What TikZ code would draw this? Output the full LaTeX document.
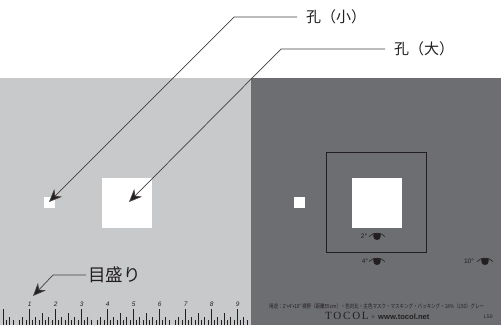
\documentclass[tikz,border=0pt]{standalone}
\usepackage{fontspec}
\usepackage{graphicx}
\usepackage{tikz}
\usetikzlibrary{arrows.meta}
\setmainfont{Liberation Sans}
\newfontfamily\cjk{Noto Sans CJK JP}
\newfontfamily\serifed[LetterSpace=16]{Liberation Serif}
\definecolor{panelL}{HTML}{C8C9CB}
\definecolor{panelD}{HTML}{6D6E71}
\definecolor{inkD}{HTML}{231F20}
\def \fs #1{\fontsize{#1}{#1}\selectfont}
\tikzset{eyemark/.pic={
  \fill [inkD] (-3.7,-2.6) -- (3.7,-2.6) -- (3.7,0.3) .. controls (3.7,2.8) and (1.8,4) .. (0,4) .. controls (-1.8,4) and (-3.7,2.8) .. (-3.7,0.3) -- cycle;
  \draw [inkD,line width=0.6pt] (-8,0.6) .. controls (-4,-4) and (4,-4) .. (8,0.6);
}}
\begin{document}
\begin{tikzpicture}[x=1pt,y=-1pt]
\tikzstyle{arrow}=[-{Stealth[length=13pt,width=11pt,fill=inkD]},line width=0.7pt,draw=inkD!85];
\tikzstyle{callout}=[anchor=west,inner ysep=0pt,text=inkD,font=\cjk];
\tikzstyle{hole}=[fill=white,inner sep=0pt];
\tikzstyle{small}=[inner sep=0pt,text=inkD];
\useasboundingbox (0,0) rectangle (501,325);
\fill [white] (0,0) rectangle (501,325);
\fill [panelL] (0,78) rectangle (251,325);
\fill [panelD] (251,78) rectangle (501,325);
% holes
\node (holeS) [hole,minimum size=11pt] at (49.5,202.5) {};
\node (holeL) [hole,minimum size=50pt] at (127,203) {};
\node (holeSd) [hole,minimum size=11pt] at (299.5,202.5) {};
\node (holeLd) [hole,minimum size=50pt] at (377,203) {};
\node (frame) [draw=inkD,line width=1pt,inner sep=0pt,minimum size=100pt] at (376.5,202.5) {};
% callouts
\node (labelS) [callout,inner xsep=9pt,font=\cjk\fs{15}] at (297,17) {孔（小）};
\node (labelL) [callout,inner xsep=9pt,font=\cjk\fs{15}] at (385,49) {孔（大）};
\node (labelR) [callout,inner xsep=2pt,font=\cjk\fs{17.5}] at (86,275) {目盛り};
\coordinate (bendS) at (234,17);
\coordinate (bendL) at (281,49);
\coordinate (bendR) at (53,275);
\coordinate (tipS) at (49,202);
\coordinate (tipL) at (129,202);
\coordinate (tipR) at (33,296);
\draw [arrow] (labelS.west) -- (bendS) -- (tipS);
\draw [arrow] (labelL.west) -- (bendL) -- (tipL);
\draw [arrow] (labelR.west) -- (bendR) -- (tipR);
% ruler
\foreach \i in {0,...,75} \draw [inkD,line width=0.7pt] (3.3+3.25*\i,325) -- ++(0,-5);
\foreach \i in {0,2,...,74} \draw [inkD,line width=0.7pt] (3.3+3.25*\i,325) -- ++(0,-8);
\foreach \i in {0,4,...,72} \draw [inkD,line width=0.7pt] (3.3+3.25*\i,325) -- ++(0,-12);
\foreach \i in {0,...,9} \draw [inkD,line width=0.8pt] (3.3+26*\i,325) -- ++(0,-16);
\foreach \i in {0,3,6} \draw [white!65!panelD,line width=0.9pt] (16.3+26*\i,325) -- ++(0,-12);
\foreach \i in {1,...,9} \node (num\i) [small,font=\fs{6.5}\itshape] at (3.6+26*\i,304.5) {\i};
% eyes
\pic (eyeA) at (377,236) {eyemark};
\pic (eyeB) at (377,261) {eyemark};
\pic (eyeC) at (485,261) {eyemark};
\node (degA) [small,font=\fs{6.5}] at (364,236.5) {2°};
\node (degB) [small,font=\fs{6.5}] at (365,261.5) {4°};
\node (degC) [small,font=\fs{6.5}] at (469,261.5) {10°};
% small print
\node (usage) [small,anchor=west,font=\cjk\fs{5.6}] at (269,306) {\resizebox{215pt}{\height}{用途：2°•4°•10° 視野（距離55cm）・色対比・主色マスク・マスキング・バッキング・18\%（L50）グレー}};
\node (brand) [small,anchor=west,font=\serifed\fs{11}] at (325,316) {TOCOL};
\node (regd) [small,font=\fs{4}] at (373,317) {®};
\node (site) [small,anchor=west,font=\bfseries\fs{7.6}] at (378,317) {www.tocol.net};
\node (grade) [small,anchor=west,font=\fs{5}] at (484,317) {L50};
\end{tikzpicture}
\end{document}
